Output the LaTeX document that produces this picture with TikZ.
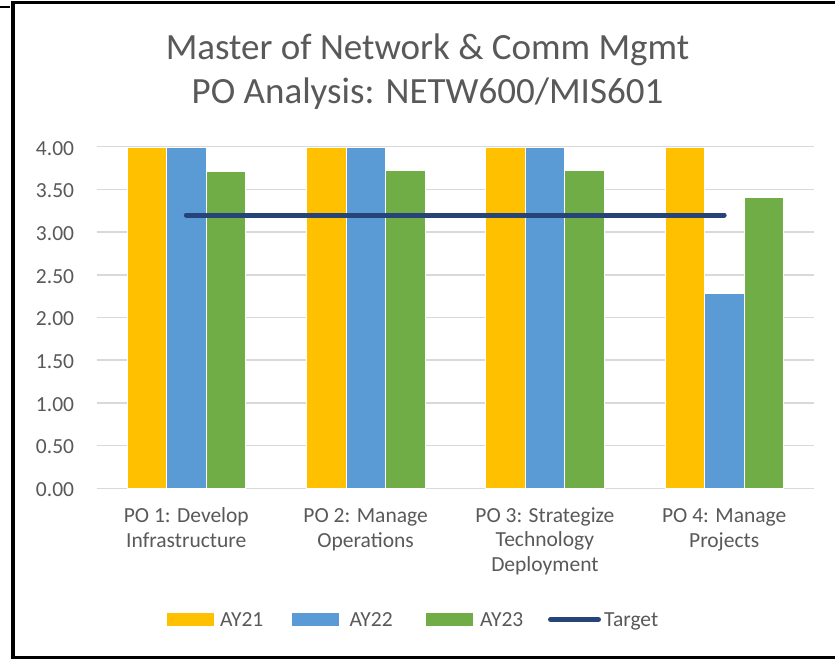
\documentclass[tikz,border=0pt]{standalone}
\usepackage{fontspec}
\setmainfont{Carlito}
\definecolor{ay21}{HTML}{FFC000}
\definecolor{ay22}{HTML}{5B9BD5}
\definecolor{ay23}{HTML}{70AD47}
\definecolor{tgt}{HTML}{264478}
\definecolor{txt}{HTML}{595959}
\definecolor{gridc}{HTML}{D9D9D9}
\begin{document}
\begin{tikzpicture}[x=1pt,y=-1pt,
  lbl/.style={text=txt,font=\fontsize{21.5}{24.5}\selectfont,inner sep=0pt},
  ttl/.style={text=txt,font=\fontsize{37}{44}\selectfont,inner sep=0pt},
  gridln/.style={draw=gridc,line width=1.5pt},
  barbox/.style={draw=white,line width=0.4pt},
  tline/.style={draw=tgt,line width=5pt,line cap=round},
  frame/.style={draw=black}
]
\useasboundingbox (0,0) rectangle (835,659);
\fill[white] (0,0) rectangle (835,659);
% frame
\draw[frame,line width=2pt] (0,7) -- (10,7);
\draw[frame,line width=4pt] (12.5,1) -- (12.5,659);
\draw[frame,line width=3pt] (10.5,2) -- (835,2);
\draw[frame,line width=3pt] (10.5,657) -- (835,657);
% title
\node[ttl,anchor=base] (t1) at (427.5,59) {Master of Network \& Comm Mgmt};
\node[ttl,anchor=base] (t2) at (427.5,103) {PO Analysis: NETW600/MIS601};
% grid and y labels
\foreach \v/\t [count=\i] in {0/0.00,0.5/0.50,1/1.00,1.5/1.50,2/2.00,2.5/2.50,3/3.00,3.5/3.50,4/4.00}{
  \pgfmathsetmacro{\yy}{488.3-\v*85.4}
  \draw[gridln] (96.7,\yy) -- (813.5,\yy);
  \node[lbl,anchor=base east] (y\i) at (74.3,\yy+8.3) {\t};
}
% bars
\foreach \c/\a/\b/\g [count=\i] in {186.3/4/4/3.71,365.6/4/4/3.73,544.9/4/4/3.73,724.2/4/2.28/3.41}{
  \pgfmathsetmacro{\ya}{488.3-\a*85.4}
  \pgfmathsetmacro{\yb}{488.3-\b*85.4}
  \pgfmathsetmacro{\yg}{488.3-\g*85.4}
  \filldraw[barbox,fill=ay21] (\c-59.25,488.3) rectangle (\c-19.75,\ya);
  \filldraw[barbox,fill=ay22] (\c-19.75,488.3) rectangle (\c+19.75,\yb);
  \filldraw[barbox,fill=ay23] (\c+19.75,488.3) rectangle (\c+59.25,\yg);
}
% target line
\coordinate (ts) at (186.3,215.0);
\coordinate (te) at (724.2,215.0);
\draw[tline] (ts) -- (te);
% category labels (base anchor = baseline of the last line)
\node[lbl,anchor=base,align=center] (c1) at (186.3,547) {PO 1: Develop\\Infrastructure};
\node[lbl,anchor=base,align=center] (c2) at (365.6,547) {PO 2: Manage\\Operations};
\node[lbl,anchor=base,align=center] (c3) at (544.9,571) {PO 3: Strategize\\Technology\\Deployment};
\node[lbl,anchor=base,align=center] (c4) at (724.2,547) {PO 4: Manage\\Projects};
% legend
\fill[ay21] (167,613) rectangle (214,626);
\node[lbl,anchor=base west] (l1) at (220,626) {AY21};
\fill[ay22] (291.7,613) rectangle (339,626);
\node[lbl,anchor=base west] (l2) at (349.3,626) {AY22};
\fill[ay23] (426,613) rectangle (472.7,626);
\node[lbl,anchor=base west] (l3) at (480,626) {AY23};
\coordinate (ls) at (550.5,619.5);
\coordinate (le) at (598.5,619.5);
\draw[tline] (ls) -- (le);
\node[lbl,anchor=base west] (l4) at (604,626) {Target};
\end{tikzpicture}
\end{document}
